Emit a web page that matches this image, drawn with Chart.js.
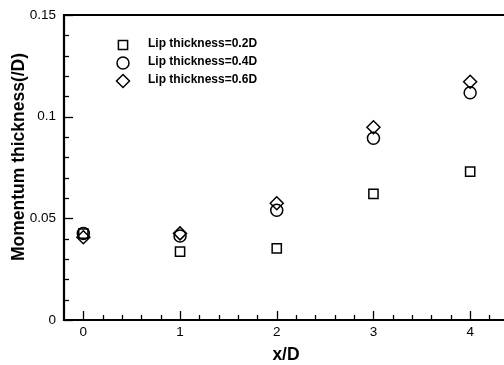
<!DOCTYPE html>
<html>
<head>
<meta charset="utf-8">
<script src="https://cdn.jsdelivr.net/npm/chart.js@4/dist/chart.umd.min.js"></script>
<style>
  html, body { margin: 0; padding: 0; background: #fff; }
  #wrap { width: 504px; height: 365px; }
</style>
</head>
<body>
<div id="wrap"><canvas id="chart" width="504" height="365"></canvas></div>
<script>
// x/D stations
const xPositions = [0, 1, 2, 3, 4];
// momentum thickness (/D) for each lip thickness
const lip02 = [0.0425, 0.0336, 0.0352, 0.0620, 0.0730];
const lip04 = [0.0426, 0.0413, 0.0540, 0.0894, 0.1118];
const lip06 = [0.0407, 0.0426, 0.0574, 0.0948, 0.1172];
const seriesLabels = ['Lip thickness=0.2D', 'Lip thickness=0.4D', 'Lip thickness=0.6D'];
const xTicks = [0, 1, 2, 3, 4];
const yTicks = [0, 0.05, 0.1, 0.15];

function toPoints(vals) {
    return xPositions.map((x, i) => ({ x: x, y: vals[i] }));
}

const markers = [
    { style: 'rect', radius: 6.5 },
    { style: 'circle', radius: 6 },
    { style: 'rectRot', radius: 6.5 }
];

// axes frame, inward ticks, titles and legend
const framePlugin = {
    id: 'frame',
    afterDraw(chart) {
        const ctx = chart.ctx;
        const a = chart.chartArea;
        const xs = chart.scales.x;
        const ys = chart.scales.y;
        ctx.save();
        ctx.strokeStyle = '#000';
        ctx.lineWidth = 1.3;
        // minor/major ticks on x
        for (let v = -0.2; v <= 4.4; v += 0.2) {
            const r = Math.round(v * 10) / 10;
            const px = Math.round(xs.getPixelForValue(r)) + 0.5;
            if (px < a.left + 1 || px > a.right) continue;
            const major = Math.abs(r - Math.round(r)) < 1e-6;
            const len = major ? 9 : 5;
            ctx.beginPath();
            ctx.moveTo(px, a.bottom);
            ctx.lineTo(px, a.bottom - len);
            ctx.stroke();
        }
        // minor/major ticks on y
        for (let i = 0; i <= 15; i++) {
            const v = i / 100;
            const py = Math.round(ys.getPixelForValue(v)) + 0.5;
            const major = i % 5 === 0;
            const len = major ? 9 : 5;
            ctx.beginPath();
            ctx.moveTo(a.left, py);
            ctx.lineTo(a.left + len, py);
            ctx.stroke();
        }
        // frame lines
        ctx.lineWidth = 2.2;
        ctx.beginPath();
        ctx.moveTo(a.right + 2, a.top);
        ctx.lineTo(a.left, a.top);
        ctx.lineTo(a.left, a.bottom);
        ctx.lineTo(a.right + 2, a.bottom);
        ctx.stroke();

        // axis titles
        ctx.fillStyle = '#000';
        ctx.font = 'bold 17.5px "Liberation Sans", Arial, sans-serif';
        ctx.textAlign = 'center';
        ctx.textBaseline = 'middle';
        ctx.fillText('x/D', 286, 355);
        ctx.save();
        ctx.translate(19, 157);
        ctx.rotate(-Math.PI / 2);
        ctx.fillText('Momentum thickness(/D)', 0, 0);
        ctx.restore();

        // legend
        ctx.font = 'bold 12px "Liberation Sans", Arial, sans-serif';
        ctx.textAlign = 'left';
        const rows = [45, 63, 81];
        rows.forEach((y, i) => {
            ctx.lineWidth = 1.5;
            ctx.strokeStyle = '#000';
            const m = markers[i];
            ctx.beginPath();
            if (m.style === 'rect') {
                const s = m.radius * Math.SQRT1_2;
                ctx.rect(123 - s, y - s, 2 * s, 2 * s);
            } else if (m.style === 'circle') {
                ctx.arc(123, y, m.radius, 0, Math.PI * 2);
            } else {
                ctx.moveTo(123, y - m.radius);
                ctx.lineTo(123 + m.radius, y);
                ctx.lineTo(123, y + m.radius);
                ctx.lineTo(123 - m.radius, y);
                ctx.closePath();
            }
            ctx.stroke();
            ctx.fillText(seriesLabels[i], 148, y - 1);
        });
        ctx.restore();
    }
};

const allSeries = [lip02, lip04, lip06];

new Chart(document.getElementById('chart'), {
    type: 'scatter',
    data: {
        datasets: allSeries.map((vals, i) => ({
            label: seriesLabels[i],
            data: toPoints(vals),
            pointStyle: markers[i].style,
            pointRadius: markers[i].radius,
            pointHoverRadius: markers[i].radius,
            pointBorderWidth: 1.5,
            borderColor: '#000',
            backgroundColor: 'rgba(0,0,0,0)',
            showLine: false
        }))
    },
    options: {
        responsive: false,
        animation: false,
        layout: { autoPadding: false, padding: { top: 15, right: 0, left: 0, bottom: 0 } },
        plugins: {
            legend: { display: false },
            tooltip: { enabled: false }
        },
        scales: {
            x: {
                type: 'linear',
                min: -0.2,
                max: 4.35,
                grid: { display: false, drawTicks: false },
                border: { display: false },
                afterBuildTicks: s => { s.ticks = xTicks.map(v => ({ value: v })); },
                afterFit: s => { s.height = 45; s.paddingRight = 0; s.paddingLeft = 0; },
                ticks: {
                    padding: 4,
                    color: '#000',
                    font: { family: '"Liberation Sans", Arial, sans-serif', size: 13.5 },
                    callback: v => String(v)
                }
            },
            y: {
                type: 'linear',
                min: 0,
                max: 0.15,
                grid: { display: false, drawTicks: false },
                border: { display: false },
                afterBuildTicks: s => { s.ticks = yTicks.map(v => ({ value: v })); },
                afterFit: s => { s.width = 64; s.paddingTop = 0; s.paddingBottom = 0; },
                ticks: {
                    padding: 8,
                    color: '#000',
                    font: { family: '"Liberation Sans", Arial, sans-serif', size: 13.5 },
                    callback: v => String(v)
                }
            }
        }
    },
    plugins: [framePlugin]
});
</script>
</body>
</html>
